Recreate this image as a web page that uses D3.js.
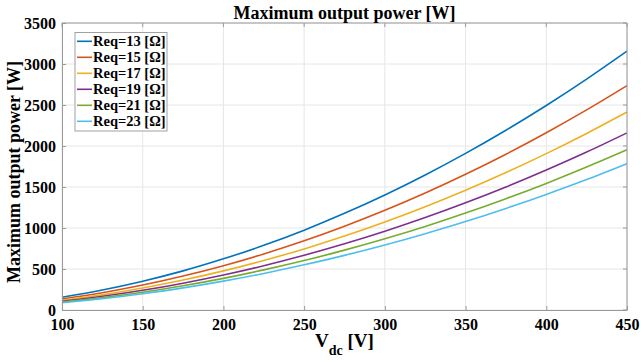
<!DOCTYPE html>
<html><head><meta charset="utf-8">
<script src="https://cdn.jsdelivr.net/npm/d3@7"></script>
<style>body{margin:0;background:#fff}svg{display:block}text{font-family:"Liberation Serif","Times New Roman",serif;font-weight:bold;fill:#000}</style>
</head><body>
<script>
const vdc = [100,125,150,175,200,225,250,275,300,325,350,375,400,425,450];
const req13 = [156,244,351,477,624,789,974,1179,1403,1647,1910,2192,2494,2816,3157];
const req15 = [135,211,304,414,540,684,844,1022,1216,1427,1655,1900,2162,2440,2736];
const req17 = [119,186,268,365,477,604,745,902,1073,1259,1460,1676,1907,2153,2414];
const req19 = [107,167,240,327,427,540,667,807,960,1127,1307,1500,1707,1926,2160];
const req21 = [97,151,217,296,386,489,603,730,869,1019,1182,1357,1544,1743,1954];
const req23 = [88,138,198,270,352,446,551,666,793,931,1079,1239,1410,1591,1784];
const seriesNames = ["Req=13 [Ω]","Req=15 [Ω]","Req=17 [Ω]","Req=19 [Ω]","Req=21 [Ω]","Req=23 [Ω]"];
const seriesValues = [req13,req15,req17,req19,req21,req23];
const colors = ["#0072BD","#D95319","#EDB120","#7E2F8E","#77AC30","#4DBEEE"];
const xTicks = [100,150,200,250,300,350,400,450];
const yTicks = [0,500,1000,1500,2000,2500,3000,3500];

const W=641,H=362, L=62,R=627,T=23,B=310;
const svg=d3.select("body").append("svg").attr("width",W).attr("height",H);
const x=d3.scaleLinear().domain([100,450]).range([L,R]);
const y=d3.scaleLinear().domain([0,3500]).range([B,T]);

// grid
const g=svg.append("g");
g.selectAll(".gx").data(xTicks).join("line").attr("x1",d=>x(d)).attr("x2",d=>x(d)).attr("y1",T).attr("y2",B).attr("stroke","#e6e6e6").attr("stroke-width",1);
g.selectAll(".gy").data(yTicks).join("line").attr("y1",d=>y(d)).attr("y2",d=>y(d)).attr("x1",L).attr("x2",R).attr("stroke","#e6e6e6").attr("stroke-width",1);

// lines
const line=d3.line().x((d,i)=>x(vdc[i])).y(d=>y(d)).curve(d3.curveMonotoneX);
svg.selectAll(".s").data(seriesValues).join("path").attr("d",line).attr("fill","none").attr("stroke",(d,i)=>colors[i]).attr("stroke-width",1.6);

// axes
const fmt=d3.format("d");
const xa=svg.append("g").attr("transform",`translate(0,${B})`).call(d3.axisBottom(x).tickValues(xTicks).tickFormat(fmt).tickSizeInner(-4).tickSizeOuter(0).tickPadding(9));
const ya=svg.append("g").attr("transform",`translate(${L},0)`).call(d3.axisLeft(y).tickValues(yTicks).tickFormat(fmt).tickSizeInner(-4).tickSizeOuter(0).tickPadding(6));
[xa,ya].forEach(a=>{a.attr("font-family",null).attr("font-size",null);a.select(".domain").attr("stroke","#9a9a9a");a.selectAll(".tick line").attr("stroke","#9a9a9a");a.selectAll("text").attr("font-size",16).style("fill","#000");});
// top/right box
svg.append("line").attr("x1",L).attr("x2",R).attr("y1",T).attr("y2",T).attr("stroke","#9a9a9a");
svg.append("line").attr("x1",R).attr("x2",R).attr("y1",T).attr("y2",B).attr("stroke","#9a9a9a");
svg.selectAll(".rt").data(yTicks).join("line").attr("x1",R).attr("x2",R-4).attr("y1",d=>y(d)).attr("y2",d=>y(d)).attr("stroke","#9a9a9a");
svg.selectAll(".tt").data(xTicks).join("line").attr("x1",d=>x(d)).attr("x2",d=>x(d)).attr("y1",T).attr("y2",T+4).attr("stroke","#9a9a9a");

// title
svg.append("text").attr("x",(L+R)/2).attr("y",19).attr("text-anchor","middle").attr("font-size",18).text("Maximum output power [W]");
// y label
svg.append("text").attr("transform",`translate(20,172) rotate(-90)`).attr("text-anchor","middle").attr("font-size",18).text("Maximum output power [W]");
// x label
const xl=svg.append("text").attr("x",(L+R)/2).attr("y",347).attr("text-anchor","middle").attr("font-size",19);
xl.append("tspan").text("V");
xl.append("tspan").attr("font-size",14).attr("dy",8).text("dc");
xl.append("tspan").attr("dy",-8).text(" [V]");

// legend
const lg=svg.append("g");
lg.append("rect").attr("x",75).attr("y",32.5).attr("width",92).attr("height",98.5).attr("fill","#fff").attr("stroke","#a0a0a0");
seriesNames.forEach((n,i)=>{
  const yy=41.3+i*16;
  lg.append("line").attr("x1",77).attr("x2",92).attr("y1",yy).attr("y2",yy).attr("stroke",colors[i]).attr("stroke-width",1.6);
  lg.append("text").attr("x",93).attr("y",yy+5).attr("font-size",14.5).text(n);
});
</script>
</body></html>
